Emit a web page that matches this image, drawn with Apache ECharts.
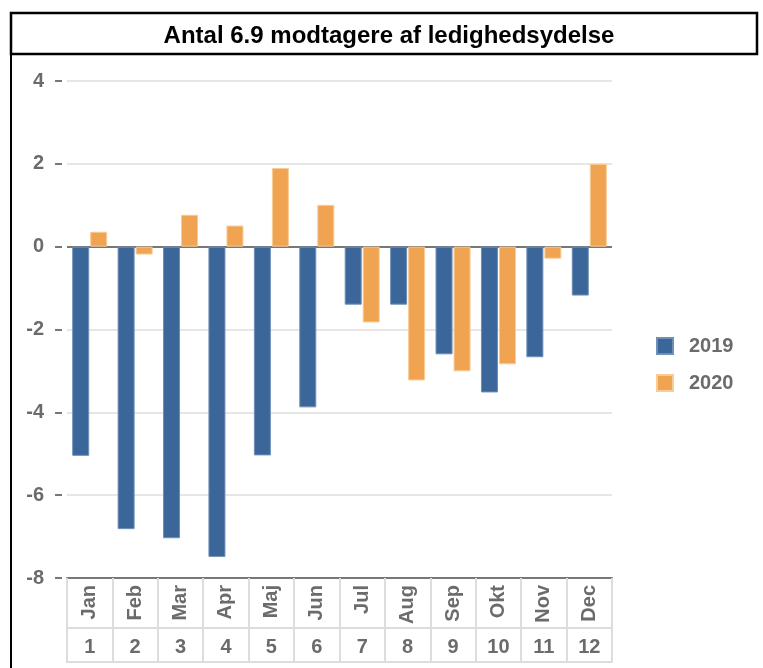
<!DOCTYPE html>
<html>
<head>
<meta charset="utf-8">
<script src="https://cdn.jsdelivr.net/npm/echarts@6/dist/echarts.min.js"></script>
<style>html,body{margin:0;padding:0;background:#fff;}#c{width:763px;height:668px;}</style>
</head>
<body>
<div id="c"></div>
<script>
const titleText = 'Antal 6.9 modtagere af ledighedsydelse';
const months = ['Jan','Feb','Mar','Apr','Maj','Jun','Jul','Aug','Sep','Okt','Nov','Dec'];
const monthNumbers = ['1','2','3','4','5','6','7','8','9','10','11','12'];
const seriesNames = ['2019','2020'];
const values2019 = [-5.05,-6.82,-7.04,-7.49,-5.04,-3.88,-1.40,-1.40,-2.60,-3.52,-2.67,-1.18];
const values2020 = [0.36,-0.19,0.77,0.51,1.90,1.01,-1.83,-3.23,-3.01,-2.84,-0.29,2.0];

const chart = echarts.init(document.getElementById('c'), null, {renderer:'canvas'});
const labelColor = '#6b6b6b';
const font = 'Liberation Sans, Arial, sans-serif';
const gridLeft = 67, gridRight = 151, gridTop = 81, gridBottom = 90;
const tableDepth = 84;
const bottomY = 668 - gridBottom + tableDepth;
chart.setOption({
  animation:false,
  title:{text:titleText, left:384, textAlign:'center', top:19,
    textStyle:{fontFamily:font, fontSize:24, fontWeight:'bold', color:'#000'}},
  graphic:{elements:[
    {type:'rect', shape:{x:11, y:13, width:746, height:41}, style:{fill:'none', stroke:'#000', lineWidth:2.5}, z:10},
    {type:'rect', shape:{x:10, y:54, width:2, height:614}, style:{fill:'#000'}, z:10},
    {type:'rect', shape:{x:gridLeft - 1, y:bottomY - 1, width:763 - gridRight - gridLeft + 2, height:2}, style:{fill:'#dddddd'}, z:10}
  ]},
  legend:{orient:'vertical', left:651, top:331, itemWidth:16, itemHeight:16, itemGap:17,
    icon:'rect', data:seriesNames,
    textStyle:{fontFamily:font, fontSize:20, fontWeight:'bold', color:labelColor, padding:[0,0,0,11]}},
  grid:{left:gridLeft, right:gridRight, top:gridTop, bottom:gridBottom, containLabel:false},
  yAxis:{type:'value', min:-8, max:4, interval:2, offset:5,
    axisLine:{show:false},
    axisTick:{show:true, length:7, lineStyle:{color:'#777', width:2}},
    axisLabel:{margin:18, fontFamily:font, fontSize:20, fontWeight:'bold', color:labelColor},
    splitLine:{show:true, lineStyle:{color:'#e6e6e6', width:2}}},
  xAxis:[
    {type:'category', data:months, position:'bottom', axisLine:{onZero:false, lineStyle:{color:'#777', width:2}},
      axisTick:{show:true, interval:0, alignWithLabel:false, length:tableDepth, lineStyle:{color:'#dddddd', width:2}},
      axisLabel:{interval:0, rotate:90, margin:7, fontFamily:font, fontSize:20, fontWeight:'bold', color:labelColor}},
    {type:'category', data:monthNumbers, position:'bottom', offset:50,
      axisLine:{onZero:false, lineStyle:{color:'#dddddd', width:2}}, axisTick:{show:false},
      axisLabel:{interval:0, margin:9, fontFamily:font, fontSize:20, fontWeight:'bold', color:labelColor}}
  ],
  series:[
    {name:seriesNames[0], type:'bar', xAxisIndex:0, data:values2019, barWidth:17, barGap:'6%',
      itemStyle:{color:'#3a6699', borderColor:'#6f8fb8', borderWidth:1},
      markLine:{silent:true, symbol:'none', label:{show:false}, lineStyle:{color:'#777', width:2, type:'solid'}, data:[{yAxis:0}], z:1}},
    {name:seriesNames[1], type:'bar', xAxisIndex:0, data:values2020, barWidth:17,
      itemStyle:{color:'#f0a452', borderColor:'#f8cc98', borderWidth:1}}
  ]
});
</script>
</body>
</html>
